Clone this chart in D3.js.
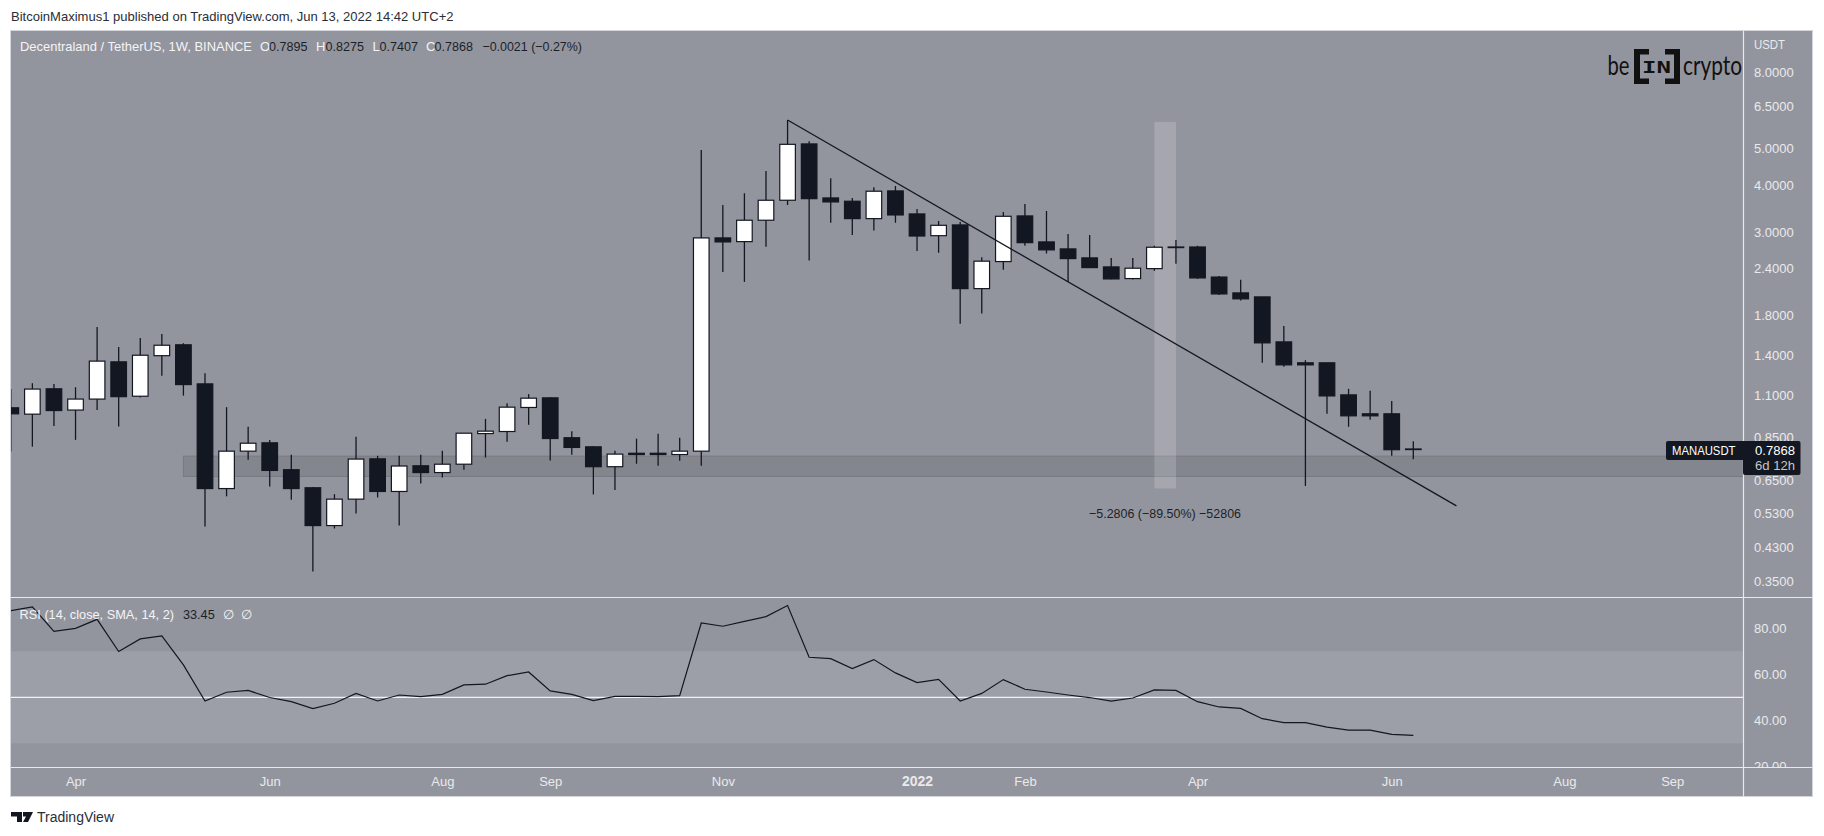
<!DOCTYPE html>
<html>
<head>
<meta charset="utf-8">
<script src="https://cdn.jsdelivr.net/npm/d3@7"></script>
<style>
body { margin: 0; background: #fff; }
text { font-family: "Liberation Sans", sans-serif; }
</style>
</head>
<body>
<div id="chart"></div>
<script>
// Weekly bars
const weeks = [
    "2021-03-15", "2021-03-22", "2021-03-29", "2021-04-05", "2021-04-12", "2021-04-19", "2021-04-26",
    "2021-05-03", "2021-05-10", "2021-05-17", "2021-05-24", "2021-05-31", "2021-06-07", "2021-06-14",
    "2021-06-21", "2021-06-28", "2021-07-05", "2021-07-12", "2021-07-19", "2021-07-26", "2021-08-02",
    "2021-08-09", "2021-08-16", "2021-08-23", "2021-08-30", "2021-09-06", "2021-09-13", "2021-09-20",
    "2021-09-27", "2021-10-04", "2021-10-11", "2021-10-18", "2021-10-25", "2021-11-01", "2021-11-08",
    "2021-11-15", "2021-11-22", "2021-11-29", "2021-12-06", "2021-12-13", "2021-12-20", "2021-12-27",
    "2022-01-03", "2022-01-10", "2022-01-17", "2022-01-24", "2022-01-31", "2022-02-07", "2022-02-14",
    "2022-02-21", "2022-02-28", "2022-03-07", "2022-03-14", "2022-03-21", "2022-03-28", "2022-04-04",
    "2022-04-11", "2022-04-18", "2022-04-25", "2022-05-02", "2022-05-09", "2022-05-16", "2022-05-23",
    "2022-05-30", "2022-06-06", "2022-06-13"
];
const opens = [
    1.017, .978, 1.143, 1.003, 1.073, 1.349, 1.092, 1.401, 1.498, 1.178,
    .619, .779, .820, .695, .622, .493, .580, .743, .608, .712,
    .683, .719, .868, .879, 1.019, 1.081, .846, .800, .708, .769,
    .769, .763, .779, 2.890, 2.825, 3.222, 3.643, 5.150, 3.695, 3.621,
    3.254, 3.858, 3.349, 2.930, 3.130, 2.116, 2.499, 3.308, 2.820, 2.701,
    2.556, 2.418, 2.251, 2.393, 2.733, 2.733, 2.272, 2.061, 2.011, 1.525,
    1.341, 1.341, 1.101, .980, .980, .7895
];
const highs = [
    1.141, 1.183, 1.178, 1.154, 1.671, 1.479, 1.563, 1.602, 1.513, 1.258,
    1.021, .905, .834, .762, .625, .598, .851, .757, .757, .762,
    .781, .870, .950, 1.046, 1.106, 1.085, .881, .803, .781, .841,
    .867, .846, 4.963, 3.540, 3.803, 4.362, 5.967, 5.235, 4.170, 3.695,
    3.946, 3.977, 3.454, 3.208, 3.188, 2.566, 3.390, 3.562, 3.411, 2.961,
    2.943, 2.556, 2.556, 2.752, 2.855, 2.752, 2.288, 2.233, 2.011, 1.682,
    1.363, 1.341, 1.143, 1.129, 1.061, .8275
];
const lows = [
    .777, .801, .910, .835, 1.004, .906, 1.083, 1.239, 1.096, .490,
    .590, .739, .627, .578, .372, .484, .531, .586, .493, .639,
    .663, .695, .749, .825, .916, .736, .762, .597, .614, .721,
    .712, .734, .712, 2.345, 2.205, 2.737, 3.540, 2.514, 3.174, 2.943,
    3.023, 3.174, 2.668, 2.640, 1.706, 1.815, 2.378, 2.755, 2.624, 2.205,
    2.408, 2.242, 2.237, 2.360, 2.464, 2.246, 2.036, 1.966, 1.341, 1.308,
    .629, .980, .905, .945, .757, .7407
];
const closes = [
    .980, 1.141, 1.000, 1.073, 1.355, 1.089, 1.405, 1.494, 1.173, .619,
    .779, .818, .692, .619, .493, .580, .742, .608, .711, .683,
    .719, .870, .881, 1.021, 1.079, .842, .797, .708, .765, .763,
    .763, .779, 2.890, 2.820, 3.222, 3.643, 5.138, 3.679, 3.606, 3.254,
    3.851, 3.328, 2.924, 3.123, 2.116, 2.505, 3.301, 2.807, 2.685, 2.545,
    2.408, 2.246, 2.399, 2.729, 2.725, 2.260, 2.048, 1.987, 1.516, 1.324,
    1.324, 1.094, .968, .968, .786, .7868
];
const rsi = [
    87.7, 89.3, 78.7, 80.0, 83.9, 69.9, 75.4, 76.7, 64.1, 48.4,
    52.2, 53.0, 49.9, 48.1, 45.1, 47.4, 51.7, 48.4, 51.0, 50.3,
    51.3, 55.4, 55.7, 59.4, 61.0, 52.8, 51.3, 48.6, 50.4, 50.4,
    50.3, 50.7, 82.3, 80.9, 83.0, 85.1, 89.9, 67.4, 66.8, 62.5,
    66.4, 60.6, 56.4, 57.8, 48.4, 51.7, 57.7, 53.5, 52.3, 51.0,
    49.9, 48.3, 49.7, 53.2, 53.0, 48.1, 45.8, 45.2, 40.7, 39.0,
    39.0, 37.0, 35.7, 35.7, 33.9, 33.45
];

// Axis labels
const priceTicks = [8, 6.5, 5, 4, 3, 2.4, 1.8, 1.4, 1.1, .85, .65, .53, .43, .35];
const rsiTicks = [80, 60, 40, 20];
const timeTicks = ["2021-04-05", "2021-06-07", "2021-08-02", "2021-09-06", "2021-11-01", "2022-01-03",
    "2022-02-07", "2022-04-04", "2022-06-06", "2022-08-01", "2022-09-05"];
const timeLabels = ["Apr", "Jun", "Aug", "Sep", "Nov", "2022", "Feb", "Apr", "Jun", "Aug", "Sep"];

// Drawings on the chart
const trendDates = ["2021-11-22", "2022-06-27"];
const trendPrices = [5.967, .5566];
const zoneDates = ["2021-05-10"];
const zonePrices = [.7556, .6666];
const measureDates = ["2022-03-21", "2022-03-28"];
const measurePrices = [5.90, .6194];

const width = 1824, height = 836;
const paneLeft = 11, paneRight = 1743.5, paneTop = 30.5, paneLine = 597.5, timeLine = 767.5, paneBottom = 796.5, outer = 1812.5;

const panelColor = "#93959e";
const bandColor = "#9c9ea8";
const candleDark = "#131722";
const axisText = "#e9eaec";

const parse = d3.utcParse("%Y-%m-%d");
const x = d3.scaleUtc().domain([parse(weeks[0]), parse(weeks[65])]).range([10.8, 1413.3]);
const y = d3.scaleLog().domain([8, .35]).range([72.3, 581.3]);
const yRsi = d3.scaleLinear().domain([80, 40]).range([628.3, 720.3]);

const svg = d3.select("#chart").append("svg")
    .attr("width", width)
    .attr("height", height)
    .style("display", "block");

// Clip areas
const defs = svg.append("defs");
defs.append("clipPath").attr("id", "mainClip").append("rect")
    .attr("x", paneLeft).attr("y", paneTop).attr("width", paneRight - paneLeft).attr("height", paneLine - paneTop);
defs.append("clipPath").attr("id", "rsiClip").append("rect")
    .attr("x", paneLeft).attr("y", paneLine).attr("width", paneRight - paneLeft).attr("height", timeLine - paneLine);
defs.append("clipPath").attr("id", "rsiAxisClip").append("rect")
    .attr("x", paneRight).attr("y", paneLine).attr("width", outer - paneRight).attr("height", timeLine - paneLine);

// Panel
svg.append("rect")
    .attr("x", 10.5).attr("y", paneTop)
    .attr("width", outer - 10.5).attr("height", paneBottom - paneTop)
    .attr("fill", panelColor)
    .attr("stroke", "#d4d5da");

// Main pane
const main = svg.append("g").attr("clip-path", "url(#mainClip)");

main.append("rect")
    .attr("x", x(parse(zoneDates[0])))
    .attr("y", y(zonePrices[0]))
    .attr("width", paneRight - x(parse(zoneDates[0])))
    .attr("height", y(zonePrices[1]) - y(zonePrices[0]))
    .attr("fill", "#84868e")
    .attr("stroke", "#787a83");

main.append("rect")
    .attr("x", x(parse(measureDates[0])))
    .attr("y", y(measurePrices[0]))
    .attr("width", x(parse(measureDates[1])) - x(parse(measureDates[0])))
    .attr("height", y(measurePrices[1]) - y(measurePrices[0]))
    .attr("fill", "#ffffff")
    .attr("fill-opacity", 0.17);

const bars = weeks.map((w, i) => ({
    date: parse(w), open: opens[i], high: highs[i], low: lows[i], close: closes[i]
}));

main.selectAll(".wick")
    .data(bars)
    .enter().append("line")
    .attr("class", "wick")
    .attr("x1", d => x(d.date))
    .attr("x2", d => x(d.date))
    .attr("y1", d => y(d.high))
    .attr("y2", d => y(d.low))
    .attr("stroke", candleDark)
    .attr("stroke-width", 1.3);

main.selectAll(".body")
    .data(bars)
    .enter().append("rect")
    .attr("class", "body")
    .attr("x", d => x(d.date) - 7.8)
    .attr("width", 15.6)
    .attr("y", d => y(Math.max(d.open, d.close)))
    .attr("height", d => Math.max(y(Math.min(d.open, d.close)) - y(Math.max(d.open, d.close)), 0.6))
    .attr("fill", d => d.close >= d.open ? "#ffffff" : candleDark)
    .attr("stroke", candleDark)
    .attr("stroke-width", 1.2);

main.append("line")
    .attr("x1", x(parse(trendDates[0])))
    .attr("y1", y(trendPrices[0]))
    .attr("x2", x(parse(trendDates[1])))
    .attr("y2", y(trendPrices[1]))
    .attr("stroke", candleDark)
    .attr("stroke-width", 1.3);

// Text helper: fit a label to the width it has in the picture
function label(g, px, py, str, opts) {
    opts = opts || {};
    const t = g.append("text")
        .attr("x", px)
        .attr("y", py)
        .attr("dominant-baseline", "central")
        .attr("font-size", opts.size || 13)
        .attr("fill", opts.fill || axisText)
        .attr("font-weight", opts.weight || "normal")
        .attr("text-anchor", opts.anchor || "start")
        .text(str);
    if (opts.len) t.attr("textLength", opts.len).attr("lengthAdjust", "spacingAndGlyphs");
    return t;
}

label(svg, 1089, 513, "\u22125.2806 (\u221289.50%) \u221252806", { fill: "#1c1f28", len: 152 });

// RSI pane
const rsiPane = svg.append("g").attr("clip-path", "url(#rsiClip)");

rsiPane.append("rect")
    .attr("x", paneLeft)
    .attr("y", yRsi(70))
    .attr("width", paneRight - paneLeft)
    .attr("height", yRsi(30) - yRsi(70))
    .attr("fill", bandColor);

rsiPane.append("line")
    .attr("x1", paneLeft).attr("x2", paneRight)
    .attr("y1", yRsi(50)).attr("y2", yRsi(50))
    .attr("stroke", "#f2f2f4")
    .attr("stroke-width", 1.2);

const rsiLine = d3.line()
    .x((d, i) => x(parse(weeks[i])))
    .y(d => yRsi(d));

rsiPane.append("path")
    .attr("d", rsiLine(rsi))
    .attr("fill", "none")
    .attr("stroke", candleDark)
    .attr("stroke-width", 1.2);

// Pane separators
[[paneLeft, outer, paneLine, paneLine], [paneLeft, outer, timeLine, timeLine], [paneRight, paneRight, paneTop, paneBottom]].forEach(s => {
    svg.append("line")
        .attr("x1", s[0]).attr("x2", s[1]).attr("y1", s[2]).attr("y2", s[3])
        .attr("stroke", "#e8e9ec")
        .attr("stroke-width", 1.2);
});

// Axes
function styleAxis(g) {
    g.select(".domain").remove();
    g.selectAll(".tick line").remove();
    g.selectAll(".tick text")
        .attr("fill", axisText)
        .attr("font-size", 13)
        .attr("font-family", '"Liberation Sans", sans-serif');
}

svg.append("g")
    .attr("transform", `translate(${paneRight},0)`)
    .call(d3.axisRight(y).tickValues(priceTicks).tickFormat(d3.format(".4f")).tickSize(0).tickPadding(10.5))
    .call(styleAxis);

const rsiAxisWrap = svg.append("g").attr("clip-path", "url(#rsiAxisClip)");
rsiAxisWrap.append("g")
    .attr("transform", `translate(${paneRight},0)`)
    .call(d3.axisRight(yRsi).tickValues(rsiTicks).tickFormat(d3.format(".2f")).tickSize(0).tickPadding(10.5))
    .call(styleAxis);

svg.append("g")
    .attr("transform", `translate(0,${timeLine})`)
    .call(d3.axisBottom(x)
        .tickValues(timeTicks.map(parse))
        .tickFormat((d, i) => timeLabels[i])
        .tickSize(0)
        .tickPadding(9))
    .call(styleAxis)
    .call(g => g.selectAll(".tick text")
        .attr("font-weight", (d, i) => timeLabels[i] === "2022" ? "bold" : "normal")
        .attr("font-size", (d, i) => timeLabels[i] === "2022" ? 14 : 13));

label(svg, 1754, 44.5, "USDT", { size: 13, len: 31 });

// Last price tag
svg.append("rect").attr("x", 1666).attr("y", 441).attr("width", 80).attr("height", 19).attr("rx", 2).attr("fill", candleDark);
svg.append("rect").attr("x", 1743).attr("y", 441).attr("width", 57.5).attr("height", 34).attr("rx", 2).attr("fill", candleDark);
label(svg, 1672, 450.5, "MANAUSDT", { fill: "#ffffff", len: 63.5 });
label(svg, 1755, 450.5, closes[65].toFixed(4), { fill: "#ffffff", len: 40 });
label(svg, 1755, 465.5, "6d 12h", { fill: "#c4c5c9", len: 40 });

// Legends
label(svg, 20, 46.5, "Decentraland / TetherUS, 1W, BINANCE", { fill: "#f4f4f6", len: 232 });
[["O", 260, opens[65], 269], ["H", 316, highs[65], 325.4], ["L", 372.5, lows[65], 379.6], ["C", 426, closes[65], 434.6]].forEach(d => {
    label(svg, d[1], 46.5, d[0], { fill: "#f4f4f6" });
    label(svg, d[3], 46.5, d[2].toFixed(4), { fill: "#1c1f28", len: 38.5 });
});
label(svg, 482.4, 46.5, "\u22120.0021 (\u22120.27%)", { fill: "#1c1f28", len: 99.6 });

label(svg, 19.6, 614.5, "RSI (14, close, SMA, 14, 2)", { fill: "#f4f4f6", len: 154.4 });
label(svg, 183, 614.5, rsi[65].toFixed(2), { fill: "#1c1f28", len: 31.7 });
label(svg, 223, 614.5, "\u2205", { fill: "#f4f4f6" });
label(svg, 241, 614.5, "\u2205", { fill: "#f4f4f6" });

// Page header and footer
label(svg, 11, 16.5, "BitcoinMaximus1 published on TradingView.com, Jun 13, 2022 14:42 UTC+2", { fill: "#2a2e39", len: 442.5 });
label(svg, 37, 817, "TradingView", { fill: "#2a2e39", size: 14, len: 77 });
svg.append("path")
    .attr("d", "M11 812H22V822H17V816.5H11Z M23 812H33L28 822H23L26 816.5H23Z")
    .attr("fill", "#131722");

// beincrypto watermark
const logo = svg.append("g").attr("fill", "#111");
label(logo, 1607.5, 65, "be", { fill: "#111", size: 26, len: 22 }).style("font-family", "Lato");
label(logo, 1683, 65, "crypto", { fill: "#111", size: 26, len: 59 }).style("font-family", "Lato");
logo.append("path").attr("d", "M1634 49H1649V54.5H1640V78.5H1649V84H1634Z");
logo.append("path").attr("d", "M1665 49H1680V84H1665V78.5H1674V54.5H1665Z");
label(logo, 1656.5, 67.5, "IN", { fill: "#111", size: 15, weight: "bold", anchor: "middle", len: 29 }).style("font-family", "DejaVu Sans Mono");
</script>
</body>
</html>
